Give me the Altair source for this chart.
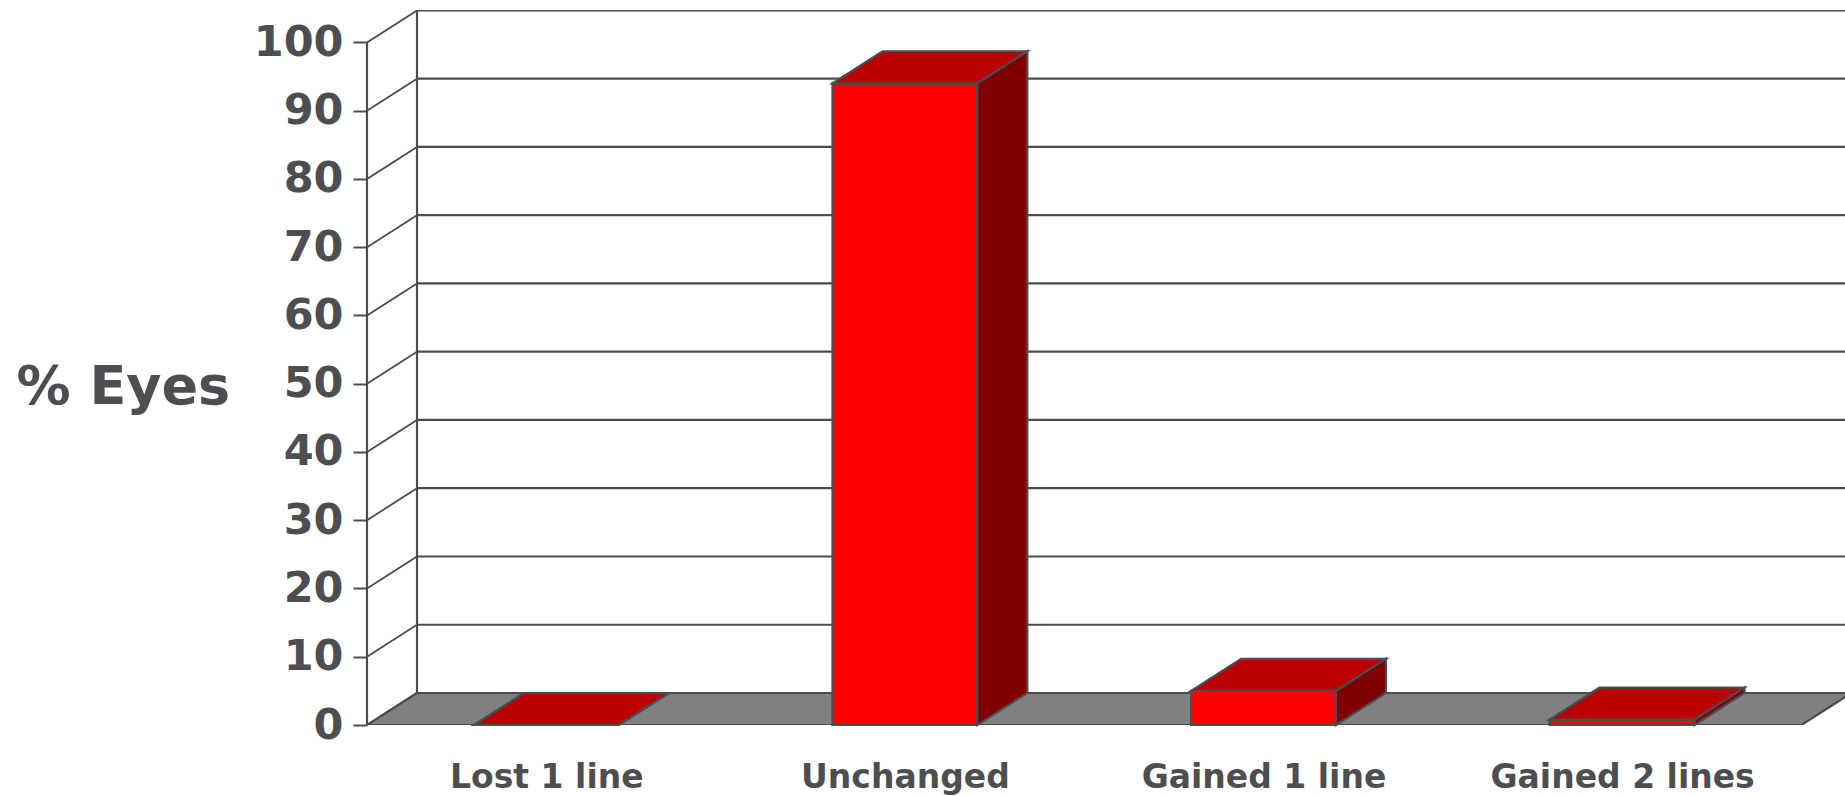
import json
import altair as alt
import pandas as pd

# ---- data -------------------------------------------------------------
categories = ["Lost 1 line", "Unchanged", "Gained 1 line", "Gained 2 lines"]
pct_eyes = [0, 94, 5, 0.8]
y_ticks = [0, 10, 20, 30, 40, 50, 60, 70, 80, 90, 100]

# ---- styling / 3-D geometry ------------------------------------------
FONT = "DejaVu Sans"
TEXT = "#4D4E52"
LINE = "#4B4C52"
FRONT = "#FF0000"
TOP = "#BB0000"
SIDE = "#7F0000"
FLOOR = "#808080"

PLOT_W, PLOT_H = 1478, 715
SLOT_PX = 358.6            # pixels per category slot
UNIT_PX = 6.826            # pixels per percentage point
X_MAX = PLOT_W / SLOT_PX
Y_MAX = PLOT_H / UNIT_PX
DX = 50 / SLOT_PX          # depth of the box, horizontal part
DY = 32 / UNIT_PX          # depth of the box, vertical part
BAR_W = 0.404
N = len(categories)

xs = alt.Scale(domain=[0, X_MAX], nice=False, zero=False)
ys = alt.Scale(domain=[0, Y_MAX], nice=False, zero=False)

label_expr = json.dumps(categories) + "[floor(datum.value)]"
x_axis = alt.Axis(
    values=[i + 0.5 for i in range(N)], labelExpr=label_expr, title="",
    ticks=False, domain=False, grid=False, labelFont=FONT, labelFontWeight="bold",
    labelFontSize=33, labelColor=TEXT, labelPadding=62, labelBaseline="alphabetic",
    labelLimit=600, labelOverlap=False,
)
y_axis = alt.Axis(
    values=y_ticks, title="% Eyes", domain=False, grid=False,
    tickSize=14, tickWidth=2, tickColor=LINE, labelPadding=10,
    labelFont=FONT, labelFontWeight="bold", labelFontSize=43, labelColor=TEXT,
    titleFont=FONT, titleFontWeight="bold", titleFontSize=54, titleColor=TEXT,
    titleAngle=0, titleAlign="left", titleBaseline="alphabetic",
    titleX=-351, titleY=393, labelOverlap=False,
)


def X(field):
    return alt.X(field, type="quantitative", scale=xs, axis=x_axis)


def Y(field):
    return alt.Y(field, type="quantitative", scale=ys, axis=y_axis)


# ---- walls ------------------------------------------------------------
grid_df = pd.DataFrame({"v": y_ticks})
grid_df["vb"] = grid_df["v"] + DY
grid_df["x0"] = 0.0
grid_df["xb"] = DX
grid_df["xe"] = X_MAX

back_grid = alt.Chart(grid_df).mark_rule(color=LINE, strokeWidth=2.2, clip=True).encode(
    x=X("xb"), x2="xe", y=Y("vb"),
)
side_grid = alt.Chart(grid_df).mark_rule(color=LINE, strokeWidth=1.8).encode(
    x=X("x0"), x2="xb", y=Y("v"), y2="vb",
)
axes_df = pd.DataFrame({"x": [0.0, DX], "y0": [0.0, DY], "y1": [y_ticks[-1], y_ticks[-1] + DY]})
wall_edges = alt.Chart(axes_df).mark_rule(color=LINE, strokeWidth=2.2).encode(
    x=X("x"), y=Y("y0"), y2="y1",
)

# ---- floor --------------------------------------------------------------
floor_df = pd.DataFrame({"y": [0.0, DY], "xa": [0.0, DX], "xb": [N, N + DX]})
floor = alt.Chart(floor_df).mark_area(
    orient="horizontal", fill=FLOOR, stroke=LINE, strokeWidth=2.2, clip=True,
).encode(y=Y("y"), x=X("xa"), x2="xb")

# ---- boxes --------------------------------------------------------------
front_rows, top_rows, side_rows = [], [], []
for i, (cat, v) in enumerate(zip(categories, pct_eyes)):
    x0 = i + 0.5 - BAR_W / 2
    x1 = i + 0.5 + BAR_W / 2
    front_rows.append({"cat": cat, "x0": x0, "x1": x1, "v": v, "base": 0.0})
    top_rows += [
        {"cat": cat, "y": v, "xa": x0, "xb": x1},
        {"cat": cat, "y": v + DY, "xa": x0 + DX, "xb": x1 + DX},
    ]
    side_rows += [
        {"cat": cat, "x": x1, "ya": 0.0, "yb": v},
        {"cat": cat, "x": x1 + DX, "ya": DY, "yb": v + DY},
    ]

front = alt.Chart(pd.DataFrame(front_rows)).mark_rect(
    fill=FRONT, stroke=LINE, strokeWidth=2.2,
).encode(x=X("x0"), x2="x1", y=Y("base"), y2="v")

top = alt.Chart(pd.DataFrame(top_rows)).mark_area(
    orient="horizontal", fill=TOP, stroke=LINE, strokeWidth=2.2,
).encode(y=Y("y"), x=X("xa"), x2="xb", detail="cat:N")

side = alt.Chart(pd.DataFrame(side_rows)).mark_area(
    orient="vertical", fill=SIDE, stroke=LINE, strokeWidth=2.2,
).encode(x=X("x"), y=Y("ya"), y2="yb", detail="cat:N")

chart = alt.layer(back_grid, side_grid, wall_edges, floor, front, top, side).properties(
    width=PLOT_W,
    height=PLOT_H,
    padding={"left": 367, "top": 10, "right": 0, "bottom": 71},
    autosize=alt.AutoSizeParams(type="none"),
    background="white",
).configure_view(strokeWidth=0)

chart.save("out.html", embed_options={"renderer": "svg", "actions": False})
